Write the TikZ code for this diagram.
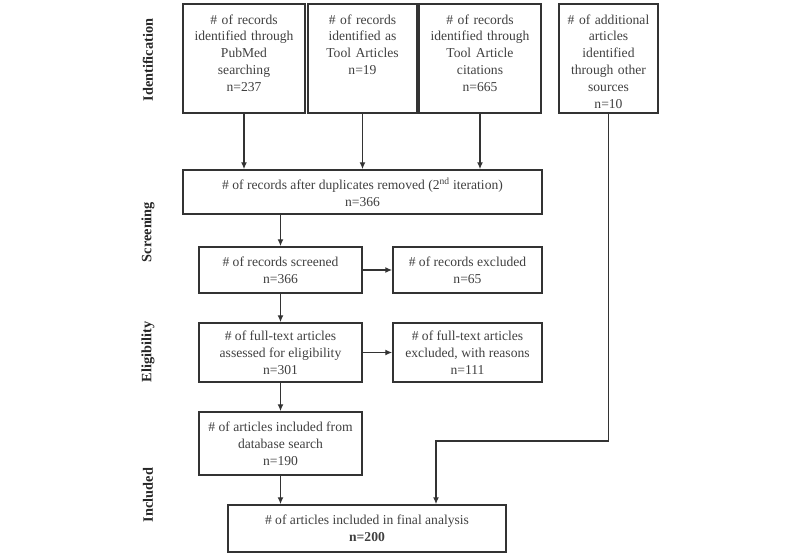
\documentclass[tikz,border=0pt]{standalone}
\usepackage{fontspec}
\setmainfont{Liberation Serif}
\usetikzlibrary{arrows.meta}
\definecolor{boxline}{gray}{0.2}
\definecolor{boxtext}{gray}{0.25}
\newcommand{\toptext}[1]{\parbox[c][100pt][t]{\linewidth}{\centering\vspace{6pt}#1}}

\begin{document}
\begin{tikzpicture}[x=1pt,y=-1pt,
    every node/.style={font=\fontsize{13.6}{16.8}\selectfont, text=boxtext},
    box/.style={draw=boxline, line width=1.5pt, inner sep=0pt, align=center},
    phase/.style={rotate=90, font=\fontsize{14.3}{16}\selectfont\bfseries, text=black!85},
    flow/.style={-{Latex[length=7pt,width=6pt]}, boxline, line width=1.5pt}]
    \useasboundingbox (0,0) rectangle (800,557);

    % phase labels
    \node[phase] (idf) at (148,60) {Identification};
    \node[phase] (scrn) at (148,232) {Screening};
    \node[phase] (elg) at (148,352) {Eligibility};
    \node[phase] (inc) at (148,495) {Included};

    % sources
    \node[box, minimum width=122, minimum height=109, text width=120] (b1) at (244,58.5)
        {\toptext{\# of records\\ identified through\\ PubMed\\ searching\\ n=237}};
    \node[box, minimum width=109, minimum height=109, text width=107] (b2) at (362.5,58.5)
        {\toptext{\# of records\\ identified as\\ Tool Articles\\ n=19}};
    \node[box, minimum width=122, minimum height=109, text width=120] (b3) at (480,58.5)
        {\toptext{\# of records\\ identified through\\ Tool Article\\ citations\\ n=665}};
    \node[box, minimum width=99, minimum height=109, text width=97] (b4) at (608.5,58.5)
        {\toptext{\# of additional\\ articles\\ identified\\ through other\\ sources\\ n=10}};

    % flow
    \node[box, minimum width=359, minimum height=44] (dup) at (362.5,192)
        {\# of records after duplicates removed (2\textsuperscript{nd} iteration)\\ n=366};
    \node[box, minimum width=163, minimum height=46] (scr) at (280.5,270)
        {\# of records screened\\ n=366};
    \node[box, minimum width=149, minimum height=46] (exc) at (467.5,270)
        {\# of records excluded\\ n=65};
    \node[box, minimum width=163, minimum height=59] (elig) at (280.5,352.5)
        {\# of full-text articles\\ assessed for eligibility\\ n=301};
    \node[box, minimum width=149, minimum height=59] (exc2) at (467.5,352.5)
        {\# of full-text articles\\ excluded, with reasons\\ n=111};
    \node[box, minimum width=163, minimum height=63] (db) at (280.5,443.5)
        {\# of articles included from\\ database search\\ n=190};
    \node[box, minimum width=278, minimum height=47] (fin) at (367,528.5)
        {\# of articles included in final analysis\\ \textbf{n=200}};
    \coordinate (turn) at (436,441);

    \foreach \b in {b1,b2,b3}
    \draw[flow] (\b.south) -- (\b |- dup.north);
    \draw[flow] (scr |- dup.south) -- (scr.north);
    \draw[flow] (scr.east) -- (exc.west);
    \draw[flow] (scr.south) -- (elig.north);
    \draw[flow] (elig.east) -- (exc2.west);
    \draw[flow] (elig.south) -- (db.north);
    \draw[flow] (db.south) -- (db |- fin.north);
    \draw[flow] (b4.south) |- (turn) -- (turn |- fin.north);
\end{tikzpicture}
\end{document}
